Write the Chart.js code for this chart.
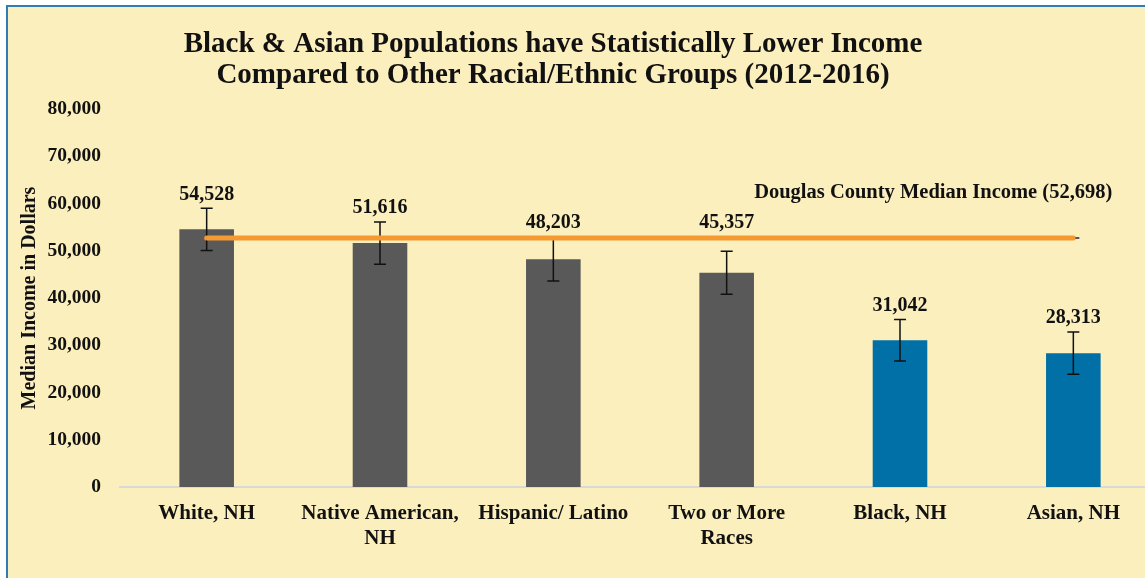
<!DOCTYPE html>
<html>
<head>
<meta charset="utf-8">
<script src="https://cdn.jsdelivr.net/npm/chart.js@4"></script>
<style>
  html, body { margin: 0; padding: 0; background: #ffffff; overflow: hidden; }
  #card {
    position: absolute; left: 6px; top: 5px;
    width: 1170px; height: 600px;
    border: 2px solid #2E7DB5;
    background: #FCEFBE;
  }
  #chart { display: block; }
</style>
</head>
<body>
<div id="card"><canvas id="chart" width="1160" height="590"></canvas></div>
<script>
// Chart data
const categories = [
    'White, NH',
    ['Native American,', 'NH'],
    'Hispanic/ Latino',
    ['Two or More', 'Races'],
    'Black, NH',
    'Asian, NH'
];
const medianIncome = [54528, 51616, 48203, 45357, 31042, 28313];
const errorMargin = [4450, 4450, 4600, 4550, 4400, 4470];
const countyMedian = 52698;
const countyLine = categories.map(() => countyMedian);
const barColors = ['#595959', '#595959', '#595959', '#595959', '#0070A6', '#0070A6'];
const yTicks = [0, 10000, 20000, 30000, 40000, 50000, 60000, 70000, 80000];
const titleLines = ['Black & Asian Populations have Statistically Lower Income',
                    'Compared to Other Racial/Ethnic Groups (2012-2016)'];

const serif = "'Liberation Serif', 'DejaVu Serif', serif";
const fmt = v => v.toLocaleString('en-US');

// error bars, drawn right after the bars (the orange line goes over them)
const errorBars = {
    id: 'errorBars',
    afterDatasetDraw(chart, args) {
        if (args.index !== 0) return;
        const ctx = chart.ctx;
        const y = chart.scales.y;
        const meta = chart.getDatasetMeta(0);
        ctx.save();
        ctx.strokeStyle = '#111';
        ctx.lineWidth = 1.5;
        meta.data.forEach((bar, i) => {
            const top = y.getPixelForValue(medianIncome[i] + errorMargin[i]);
            const bot = y.getPixelForValue(medianIncome[i] - errorMargin[i]);
            ctx.beginPath();
            ctx.moveTo(bar.x, top); ctx.lineTo(bar.x, bot);
            ctx.moveTo(bar.x - 6, top); ctx.lineTo(bar.x + 6, top);
            ctx.moveTo(bar.x - 6, bot); ctx.lineTo(bar.x + 6, bot);
            ctx.stroke();
        });
        ctx.restore();
    }
};

// title, value labels + county line label
const labels = {
    id: 'labels',
    afterDatasetsDraw(chart) {
        const ctx = chart.ctx;
        const y = chart.scales.y;
        const meta = chart.getDatasetMeta(0);
        const lineY = y.getPixelForValue(countyMedian);
        ctx.save();
        ctx.fillStyle = '#111';
        ctx.textAlign = 'center';
        ctx.textBaseline = 'middle';
        ctx.font = "bold 29px " + serif;
        ctx.fillText(titleLines[0], 545, 38);
        ctx.fillText(titleLines[1], 545, 69);

        // value labels sit above the error bar, or above the county line when they'd hit it
        ctx.font = "bold 20px " + serif;
        meta.data.forEach((bar, i) => {
            const top = y.getPixelForValue(medianIncome[i] + errorMargin[i]);
            let ly = top - 14;
            if (medianIncome[i] < countyMedian && top - 14 > lineY - 15 && top < lineY + 40) ly = lineY - 15;
            ctx.fillText(fmt(medianIncome[i]), bar.x, ly);
        });
        const lineMeta = chart.getDatasetMeta(1);
        const last = lineMeta.data[lineMeta.data.length - 1];
        // little dark tick at the end of the line
        ctx.strokeStyle = '#555';
        ctx.lineWidth = 2;
        ctx.beginPath();
        ctx.moveTo(last.x + 2, last.y); ctx.lineTo(last.x + 6, last.y);
        ctx.stroke();
        ctx.textAlign = 'right';
        ctx.font = "bold 20.5px " + serif;
        ctx.fillText('Douglas County Median Income (' + fmt(countyMedian) + ')', last.x + 39, last.y - 45);
        ctx.restore();
    }
};

const ctx = document.getElementById('chart').getContext('2d');
const chart = new Chart(ctx, {
    data: {
        labels: categories,
        datasets: [{
            type: 'bar',
            label: 'Median Income',
            data: medianIncome,
            backgroundColor: barColors,
            barPercentage: 0.63,
            categoryPercentage: 0.5,
            order: 1
        }, {
            type: 'line',
            label: 'Douglas County Median Income',
            data: countyLine,
            borderColor: '#F59A30',
            borderWidth: 5,
            borderCapStyle: 'round',
            pointRadius: 0,
            tension: 0,
            order: 0
        }]
    },
    options: {
        responsive: false,
        animation: false,
        layout: { padding: { left: 0, right: 8, top: 102, bottom: 0 } },
        plugins: {
            legend: { display: false },
            tooltip: { enabled: false },
            title: { display: false }
        },
        scales: {
            x: {
                afterFit: axis => { axis.height = 590 - 102 - 378; },
                grid: { display: false, drawTicks: false },
                border: { display: true, color: '#D9D9D9', width: 2 },
                ticks: {
                    color: '#111',
                    padding: 15,
                    maxRotation: 0,
                    autoSkip: false,
                    font: { family: serif, size: 21, weight: 'bold', lineHeight: 1.15 }
                }
            },
            y: {
                min: 0,
                max: 80000,
                afterBuildTicks: axis => { axis.ticks = yTicks.map(v => ({ value: v })); },
                afterFit: axis => { axis.width = 112; },
                grid: { display: false, drawTicks: false },
                border: { display: false },
                ticks: {
                    color: '#111',
                    padding: 19,
                    font: { family: serif, size: 19.5, weight: 'bold' },
                    callback: v => fmt(v)
                },
                title: {
                    display: true,
                    text: 'Median Income in Dollars',
                    color: '#111',
                    font: { family: serif, size: 20, weight: 'bold' },
                    padding: { top: 10, bottom: 0 }
                }
            }
        }
    },
    plugins: [errorBars, labels]
});
</script>
</body>
</html>
